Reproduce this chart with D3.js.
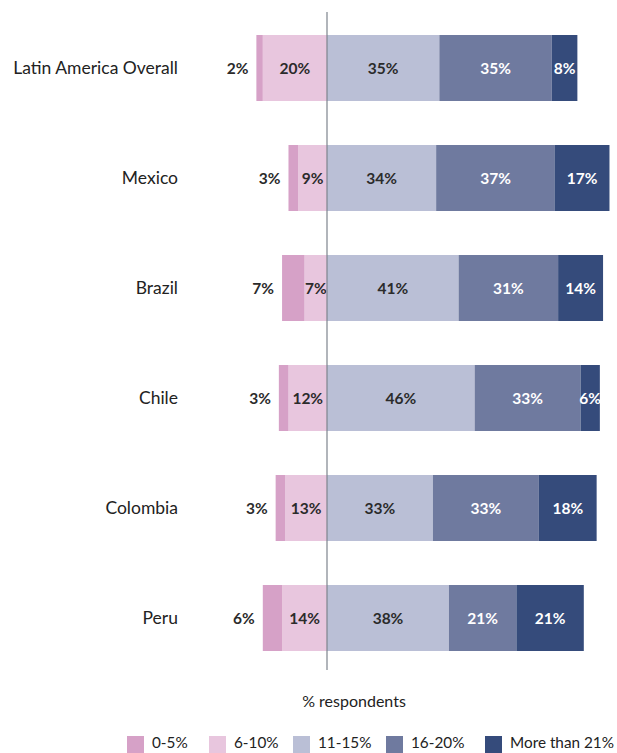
<!DOCTYPE html>
<html>
<head>
<meta charset="utf-8">
<script src="https://cdn.jsdelivr.net/npm/d3@7/dist/d3.min.js"></script>
<style>
  html, body { margin: 0; padding: 0; background: #ffffff; }
  svg { display: block; }
  text { font-family: Lato, "Noto Sans", sans-serif; }
</style>
</head>
<body>
<svg id="chart" width="617" height="753"></svg>
<script>
// Share of respondents by bracket, per country
const categories = ["Latin America Overall", "Mexico", "Brazil", "Chile", "Colombia", "Peru"];
const seriesNames = ["0-5%", "6-10%", "11-15%", "16-20%", "More than 21%"];
const s0to5   = [2, 3, 7, 3, 3, 6];
const s6to10  = [20, 9, 7, 12, 13, 14];
const s11to15 = [35, 34, 41, 46, 33, 38];
const s16to20 = [35, 37, 31, 33, 33, 21];
const s21plus = [8, 17, 14, 6, 18, 21];
const axisTitle = "% respondents";

const colors = ["#d6a1c7", "#e8c6de", "#babfd6", "#6f7a9f", "#354b7b"];
const labelColors = ["#2b2b2b", "#2b2b2b", "#2b2b2b", "#ffffff", "#ffffff"];

const svg = d3.select("#chart");

const x = d3.scaleLinear().domain([-30, 90]).range([327 - 30 * 3.21, 327 + 90 * 3.21]);
const y = d3.scaleBand().domain(categories).range([13, 673]).paddingInner(0.4).paddingOuter(0.2);

// Build diverging segments: first two brackets extend left of zero
const rows = categories.map((c, i) => {
  const vals = [s0to5[i], s6to10[i], s11to15[i], s16to20[i], s21plus[i]];
  const segs = [];
  let left = -vals[1];
  segs.push({ k: 1, x0: left, x1: 0, v: vals[1] });
  segs.push({ k: 0, x0: left - vals[0], x1: left, v: vals[0] });
  let right = 0;
  for (let k = 2; k < 5; k++) {
    segs.push({ k, x0: right, x1: right + vals[k], v: vals[k] });
    right += vals[k];
  }
  return { c, segs };
});

const rowG = svg.append("g").selectAll("g.row").data(rows).join("g")
  .attr("class", "row")
  .attr("transform", d => `translate(0,${y(d.c)})`);

rowG.selectAll("rect").data(d => d.segs).join("rect")
  .attr("x", d => x(d.x0))
  .attr("width", d => x(d.x1) - x(d.x0))
  .attr("y", 0)
  .attr("height", y.bandwidth())
  .attr("fill", d => colors[d.k]);

// Value labels (smallest bracket sits outside, left of its bar)
rowG.selectAll("text.val").data(d => d.segs).join("text")
  .attr("class", "val")
  .attr("x", d => d.k === 0 ? x(d.x0) - 8 : (x(d.x0) + x(d.x1)) / 2)
  .attr("y", y.bandwidth() / 2)
  .attr("dy", "0.36em")
  .attr("text-anchor", d => d.k === 0 ? "end" : "middle")
  .attr("font-size", 15.5)
  .attr("font-weight", 700)
  .attr("fill", d => labelColors[d.k])
  .text(d => d.v + "%");

// Category labels
rowG.append("text")
  .attr("x", 178)
  .attr("y", y.bandwidth() / 2)
  .attr("dy", "0.36em")
  .attr("text-anchor", "end")
  .attr("font-size", 17.5)
  .attr("fill", "#222222")
  .text(d => d.c);

// Zero baseline
svg.append("line")
  .attr("x1", x(0)).attr("x2", x(0))
  .attr("y1", 12).attr("y2", 670)
  .attr("stroke", "#7d848d")
  .attr("stroke-width", 1.2);

// Axis title
svg.append("text")
  .attr("x", 354)
  .attr("y", 707)
  .attr("text-anchor", "middle")
  .attr("font-size", 16)
  .attr("fill", "#222222")
  .text(axisTitle);

// Legend
const legendX = [127, 209, 293, 386, 485];
const lg = svg.selectAll("g.legend").data(seriesNames).join("g")
  .attr("class", "legend")
  .attr("transform", (d, i) => `translate(${legendX[i]},736)`);
lg.append("rect")
  .attr("width", 17).attr("height", 17)
  .attr("fill", (d, i) => colors[i]);
lg.append("text")
  .attr("x", 25)
  .attr("y", 12)
  .attr("font-size", 15.3)
  .attr("fill", "#222222")
  .text(d => d);
</script>
</body>
</html>
